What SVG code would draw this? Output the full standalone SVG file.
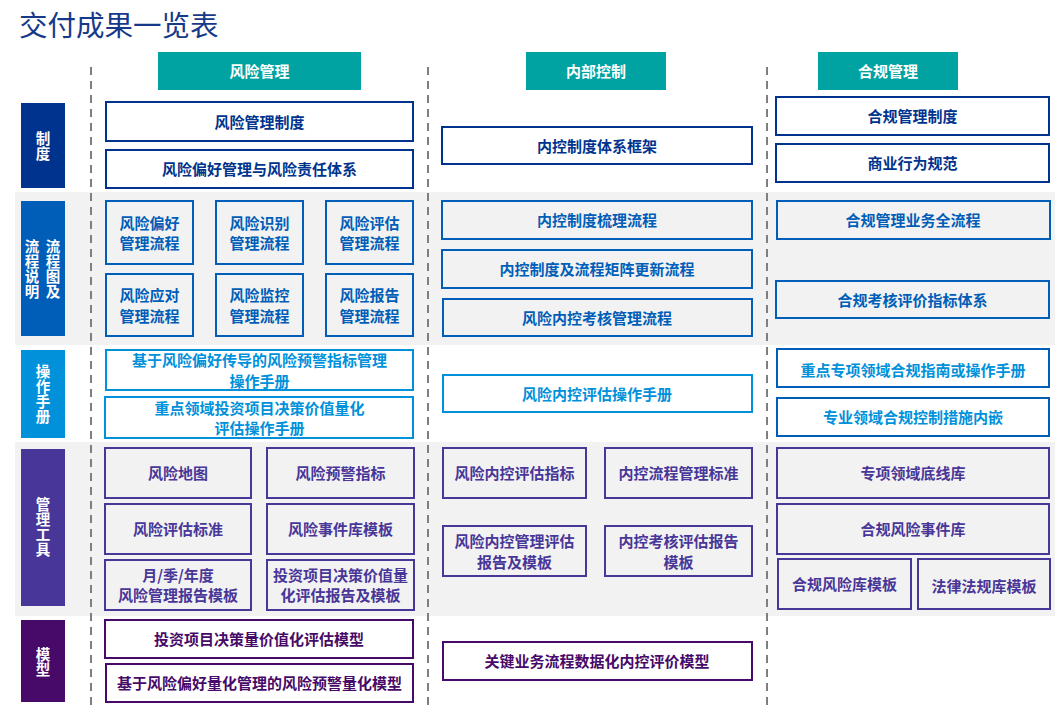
<svg xmlns="http://www.w3.org/2000/svg" width="1059" height="707" viewBox="0 0 1059 707">
<style>
text{font-family:"Noto Sans CJK SC","Liberation Sans",sans-serif;font-weight:bold;font-size:15px;text-anchor:middle;dominant-baseline:central;transform:translateY(-1px)}
.title{font-weight:normal;font-size:28.5px;text-anchor:start;fill:#17398A;dominant-baseline:auto;transform:none}
.hdr rect{fill:#00A3A1}
.hdr text{fill:#fff}
.lbl text{fill:#fff;font-size:14.5px;writing-mode:vertical-rl;letter-spacing:0.5px;transform:none}
.band{fill:#F2F2F2}
.dash{stroke:#7F7F7F;stroke-width:2;stroke-dasharray:8 6;fill:none}
.b1 rect{fill:#fff;stroke:#00338D;stroke-width:2}
.b1 text{fill:#00338D}
.b2 rect{fill:#F2F2F2;stroke:#005EB8;stroke-width:2}
.b2 text{fill:#005EB8}
.b3 rect{fill:#fff;stroke:#0091DA;stroke-width:2}
.b3 text{fill:#0091DA}
.b3b rect{fill:#fff;stroke:#005EB8;stroke-width:2}
.b3b text{fill:#0091DA}
.b4 rect{fill:#F2F2F2;stroke:#483698;stroke-width:2}
.b4 text{fill:#483698}
.b5 rect{fill:#fff;stroke:#470A68;stroke-width:2}
.b5 text{fill:#470A68}
</style>
<text class="title" x="19" y="36">交付成果一览表</text>
<rect class="band" x="15" y="192" width="1040" height="153"/>
<rect class="band" x="15" y="442" width="1040" height="174"/>
<g id="connectors">
<line class="dash" x1="91" y1="67" x2="91" y2="707"/>
<line class="dash" x1="428" y1="67" x2="428" y2="707"/>
<line class="dash" x1="767" y1="67" x2="767" y2="707"/>
</g>
<g id="hdr-risk" class="hdr"><rect x="158" y="52" width="203" height="38"/><text x="259.5" y="71">风险管理</text></g>
<g id="hdr-ic" class="hdr"><rect x="526" y="52" width="140" height="38"/><text x="596" y="71">内部控制</text></g>
<g id="hdr-comp" class="hdr"><rect x="818" y="52" width="140" height="38"/><text x="888" y="71">合规管理</text></g>
<g id="lbl-system" class="lbl"><rect x="21" y="103" width="44" height="85" fill="#00338D"/><text x="43" y="146">制度</text></g>
<g id="lbl-process" class="lbl"><rect x="21" y="201" width="44" height="135" fill="#005EB8"/>
<text x="53" y="269.5">流程图及</text><text x="32" y="269.5">流程说明</text></g>
<g id="lbl-manual" class="lbl"><rect x="21" y="350" width="44" height="88" fill="#0091DA"/><text x="43" y="394.5">操作手册</text></g>
<g id="lbl-tools" class="lbl"><rect x="21" y="449" width="44" height="157" fill="#483698"/><text x="43" y="527.5">管理工具</text></g>
<g id="lbl-model" class="lbl"><rect x="21" y="620" width="44" height="82" fill="#470A68"/><text x="43" y="662.5">模型</text></g>

<g id="r-sys1" class="b1"><rect x="106" y="102" width="307" height="39"/><text x="259.5" y="122">风险管理制度</text></g>
<g id="r-sys2" class="b1"><rect x="106" y="150" width="307" height="38"/><text x="259.5" y="169">风险偏好管理与风险责任体系</text></g>
<g id="r-p1" class="b2"><rect x="106" y="201" width="87" height="63"/><text x="149.5" y="223">风险偏好</text><text x="149.5" y="243">管理流程</text></g>
<g id="r-p2" class="b2"><rect x="216" y="201" width="87" height="63"/><text x="259.5" y="223">风险识别</text><text x="259.5" y="243">管理流程</text></g>
<g id="r-p3" class="b2"><rect x="326" y="201" width="87" height="63"/><text x="369.5" y="223">风险评估</text><text x="369.5" y="243">管理流程</text></g>
<g id="r-p4" class="b2"><rect x="106" y="274" width="87" height="62"/><text x="149.5" y="295">风险应对</text><text x="149.5" y="316">管理流程</text></g>
<g id="r-p5" class="b2"><rect x="216" y="274" width="87" height="62"/><text x="259.5" y="295">风险监控</text><text x="259.5" y="316">管理流程</text></g>
<g id="r-p6" class="b2"><rect x="326" y="274" width="87" height="62"/><text x="369.5" y="295">风险报告</text><text x="369.5" y="316">管理流程</text></g>
<g id="r-m1" class="b3"><rect x="106" y="350" width="307" height="40"/><text x="259.5" y="360">基于风险偏好传导的风险预警指标管理</text><text x="259.5" y="381">操作手册</text></g>
<g id="r-m2" class="b3"><rect x="105" y="397" width="308" height="41"/><text x="259.5" y="408">重点领域投资项目决策价值量化</text><text x="259.5" y="428">评估操作手册</text></g>
<g id="r-t1" class="b4"><rect x="105" y="448" width="146" height="50"/><text x="178" y="473">风险地图</text></g>
<g id="r-t2" class="b4"><rect x="267" y="448" width="147" height="50"/><text x="340.5" y="473">风险预警指标</text></g>
<g id="r-t3" class="b4"><rect x="105" y="504" width="146" height="50"/><text x="178" y="529">风险评估标准</text></g>
<g id="r-t4" class="b4"><rect x="267" y="504" width="147" height="50"/><text x="340.5" y="529">风险事件库模板</text></g>
<g id="r-t5" class="b4"><rect x="105" y="560" width="146" height="50"/><text x="178" y="575">月/季/年度</text><text x="178" y="595">风险管理报告模板</text></g>
<g id="r-t6" class="b4"><rect x="267" y="560" width="147" height="50"/><text x="340.5" y="575">投资项目决策价值量</text><text x="340.5" y="595">化评估报告及模板</text></g>
<g id="r-mod1" class="b5"><rect x="105" y="620" width="308" height="38"/><text x="259" y="639">投资项目决策量价值化评估模型</text></g>
<g id="r-mod2" class="b5"><rect x="106" y="664" width="307" height="38"/><text x="259.5" y="683">基于风险偏好量化管理的风险预警量化模型</text></g>

<g id="i-sys" class="b1"><rect x="442" y="127" width="310" height="37"/><text x="597" y="146">内控制度体系框架</text></g>
<g id="i-p1" class="b2"><rect x="442" y="201" width="310" height="38"/><text x="597" y="220">内控制度梳理流程</text></g>
<g id="i-p2" class="b2"><rect x="442" y="250" width="310" height="38"/><text x="597" y="269">内控制度及流程矩阵更新流程</text></g>
<g id="i-p3" class="b2"><rect x="443" y="299" width="309" height="37"/><text x="597" y="318">风险内控考核管理流程</text></g>
<g id="i-m1" class="b3"><rect x="443" y="375" width="309" height="37"/><text x="597" y="394">风险内控评估操作手册</text></g>
<g id="i-t1" class="b4"><rect x="443" y="448" width="143" height="50"/><text x="514.5" y="473">风险内控评估指标</text></g>
<g id="i-t2" class="b4"><rect x="605" y="448" width="147" height="50"/><text x="678.5" y="473">内控流程管理标准</text></g>
<g id="i-t3" class="b4"><rect x="443" y="526" width="143" height="50"/><text x="514.5" y="541">风险内控管理评估</text><text x="514.5" y="562">报告及模板</text></g>
<g id="i-t4" class="b4"><rect x="605" y="526" width="147" height="50"/><text x="678.5" y="541">内控考核评估报告</text><text x="678.5" y="562">模板</text></g>
<g id="i-mod" class="b5"><rect x="443" y="642" width="309" height="38"/><text x="597" y="661">关键业务流程数据化内控评价模型</text></g>

<g id="c-sys1" class="b1"><rect x="776" y="97" width="273" height="38"/><text x="912.5" y="116">合规管理制度</text></g>
<g id="c-sys2" class="b1"><rect x="776" y="144" width="273" height="38"/><text x="912.5" y="163">商业行为规范</text></g>
<g id="c-p1" class="b2"><rect x="777" y="201" width="273" height="38"/><text x="913" y="220">合规管理业务全流程</text></g>
<g id="c-p2" class="b2"><rect x="776" y="281" width="273" height="37"/><text x="912.5" y="300">合规考核评价指标体系</text></g>
<g id="c-m1" class="b3b"><rect x="777" y="349" width="272" height="38"/><text x="913" y="370">重点专项领域合规指南或操作手册</text></g>
<g id="c-m2" class="b3b"><rect x="777" y="398" width="272" height="38"/><text x="913" y="417">专业领域合规控制措施内嵌</text></g>
<g id="c-t1" class="b4"><rect x="777" y="448" width="272" height="50"/><text x="913" y="473">专项领域底线库</text></g>
<g id="c-t2" class="b4"><rect x="777" y="504" width="272" height="50"/><text x="913" y="529">合规风险事件库</text></g>
<g id="c-t3" class="b4"><rect x="778" y="559" width="133" height="50"/><text x="844.5" y="584">合规风险库模板</text></g>
<g id="c-t4" class="b4"><rect x="918" y="559" width="132" height="50"/><text x="984" y="586">法律法规库模板</text></g>
</svg>
